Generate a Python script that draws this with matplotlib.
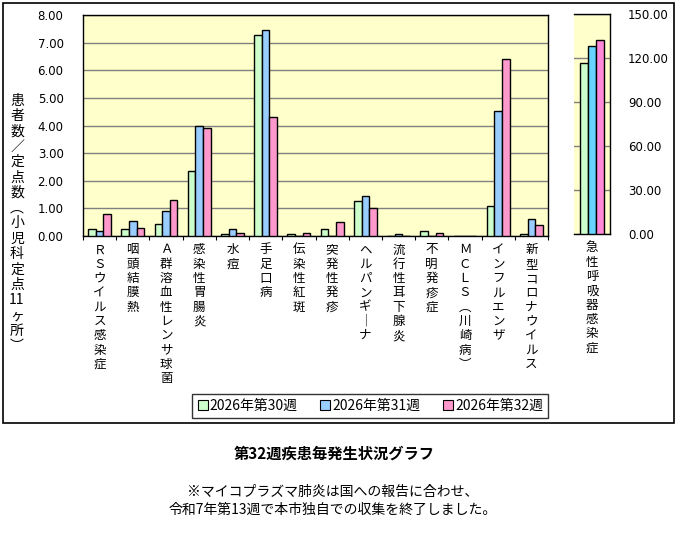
import numpy as np
import matplotlib
matplotlib.use('Agg')
import matplotlib.pyplot as plt
from matplotlib.lines import Line2D
from matplotlib.patches import Rectangle

plt.rcParams['font.family'] = ['Noto Sans CJK JP', 'DejaVu Sans']

# disease names, one entry per row of the stacked vertical label
diseases = [
    ['Ｒ', 'Ｓ', 'ウ', 'イ', 'ル', 'ス', '感', '染', '症'],
    ['咽', '頭', '結', '膜', '熱'],
    ['Ａ', '群', '溶', '血', '性', 'レ', 'ン', 'サ', '球', '菌'],
    ['感', '染', '性', '胃', '腸', '炎'],
    ['水', '痘'],
    ['手', '足', '口', '病'],
    ['伝', '染', '性', '紅', '斑'],
    ['突', '発', '性', '発', '疹'],
    ['ヘ', 'ル', 'パ', 'ン', 'ギ', '｜', 'ナ'],
    ['流', '行', '性', '耳', '下', '腺', '炎'],
    ['不', '明', '発', '疹', '症'],
    ['Ｍ', 'Ｃ', 'Ｌ', 'Ｓ', '︵', '川', '崎', '病', '︶'],
    ['イ', 'ン', 'フ', 'ル', 'エ', 'ン', 'ザ'],
    ['新', '型', 'コ', 'ロ', 'ナ', 'ウ', 'イ', 'ル', 'ス'],
]
resp_name = ['急', '性', '呼', '吸', '器', '感', '染', '症']

weeks = ['2026年第30週', '2026年第31週', '2026年第32週']

week30 = [0.24, 0.24, 0.42, 2.34, 0.06, 7.27, 0.06, 0.24, 1.25, 0.00, 0.18, 0.00, 1.07, 0.06]
week31 = [0.17, 0.53, 0.89, 3.97, 0.24, 7.44, 0.00, 0.00, 1.44, 0.06, 0.00, 0.00, 4.51, 0.60]
week32 = [0.78, 0.28, 1.29, 3.90, 0.10, 4.29, 0.10, 0.49, 1.00, 0.00, 0.10, 0.00, 6.39, 0.39]

resp_values = [116.3, 127.9, 132.0]

ylabel_rows = ['患', '者', '数', '／', '定', '点', '数', '︵', '小', '児', '科',
               '定', '点', '11', 'ヶ', '所', '︶']

colors_left = ['#CCFFCC', '#99CCFF', '#FF99CC']
colors_right = ['#CCFFCC', '#66D4FF', '#FF88D8']
bg = '#FFFFCC'

W, H = 677, 548
fig = plt.figure(figsize=(W / 100, H / 100), dpi=100)

# outer frame of the chart area
fig.patches.append(Rectangle((3 / W, 1 - 423 / H), 671 / W, 420 / H,
                             transform=fig.transFigure, fill=False,
                             edgecolor='black', linewidth=1.2))

ax = fig.add_axes([83 / W, 1 - 236 / H, 465 / W, 221 / H])
ax2 = fig.add_axes([574 / W, 1 - 234 / H, 36 / W, 220 / H])

bw = 0.23
x = np.arange(len(diseases))
for i, vals in enumerate([week30, week31, week32]):
    ax.bar(x + (i - 1) * bw, vals, width=bw, color=colors_left[i],
           edgecolor='black', linewidth=1, zorder=3)
for i in range(3):
    ax2.bar((i - 1) * bw, resp_values[i], width=bw, color=colors_right[i],
            edgecolor='black', linewidth=1, zorder=3)

for a in (ax, ax2):
    a.set_facecolor(bg)
    a.grid(axis='y', color='#808080', linewidth=1, zorder=1)
    for s in a.spines.values():
        s.set_color('black')
        s.set_linewidth(1)

ax.set_xlim(-0.5, len(diseases) - 0.5)
ax.set_ylim(0, 8)
ax.set_yticks(np.arange(0, 8.01, 1))
ax.set_yticklabels([f'{v:.2f}' for v in np.arange(0, 8.01, 1)],
                   family='DejaVu Sans', fontsize=8.5)
ax.tick_params(axis='y', length=0, pad=14)
ax.set_xticks(np.arange(-0.5, len(diseases), 1))
ax.set_xticklabels([])
ax.tick_params(axis='x', length=3, direction='out')

ax2.set_xlim(-0.5, 0.5)
ax2.set_ylim(0, 150)
ax2.set_yticks(np.arange(0, 151, 30))
ax2.yaxis.tick_right()
ax2.set_yticklabels([f'{v:.2f}' for v in np.arange(0, 151, 30)],
                    family='DejaVu Sans', fontsize=8.5)
ax2.tick_params(axis='y', length=0, pad=13)
ax2.set_xticks([])
ax2.spines['left'].set_visible(False)

# vertical category labels, one character per row
step = 10.3
for xi, rows in zip(x, diseases):
    for j, ch in enumerate(rows):
        ax.annotate(ch, (xi, 0), xycoords=('data', 'axes fraction'),
                    xytext=(0, -10 - j * step), textcoords='offset points',
                    ha='center', va='center', fontsize=9)
for j, ch in enumerate(resp_name):
    ax2.annotate(ch, (0, 0), xycoords=('data', 'axes fraction'),
                 xytext=(0, -10 - j * step), textcoords='offset points',
                 ha='center', va='center', fontsize=9)

# y axis label, stacked vertically
for j, ch in enumerate(ylabel_rows):
    fig.text(17 / W, 1 - (101 + j * 15.3) / H, ch, ha='center', va='center',
             fontsize=10)

handles = [Line2D([], [], marker='s', linestyle='none', markersize=7,
                  markerfacecolor=c, markeredgecolor='black', markeredgewidth=0.8)
           for c in colors_left]
leg = fig.legend(handles, weeks, loc='center',
                 bbox_to_anchor=(370 / W, 1 - 406 / H), ncol=3, fontsize=10,
                 frameon=True, fancybox=False, edgecolor='black',
                 handlelength=0.8, handletextpad=0.1, columnspacing=1.6,
                 borderpad=0.35)
leg.get_frame().set_linewidth(1)

fig.text(334 / W, 1 - 454 / H, '第32週疾患毎発生状況グラフ', ha='center', va='center',
         fontsize=11, fontweight='bold')
fig.text(333 / W, 1 - 492 / H, '※マイコプラズマ肺炎は国への報告に合わせ、',
         ha='center', va='center', fontsize=10)
fig.text(333 / W, 1 - 510 / H, '令和7年第13週で本市独自での収集を終了しました。',
         ha='center', va='center', fontsize=10)

fig.savefig('out.png', dpi=100)
